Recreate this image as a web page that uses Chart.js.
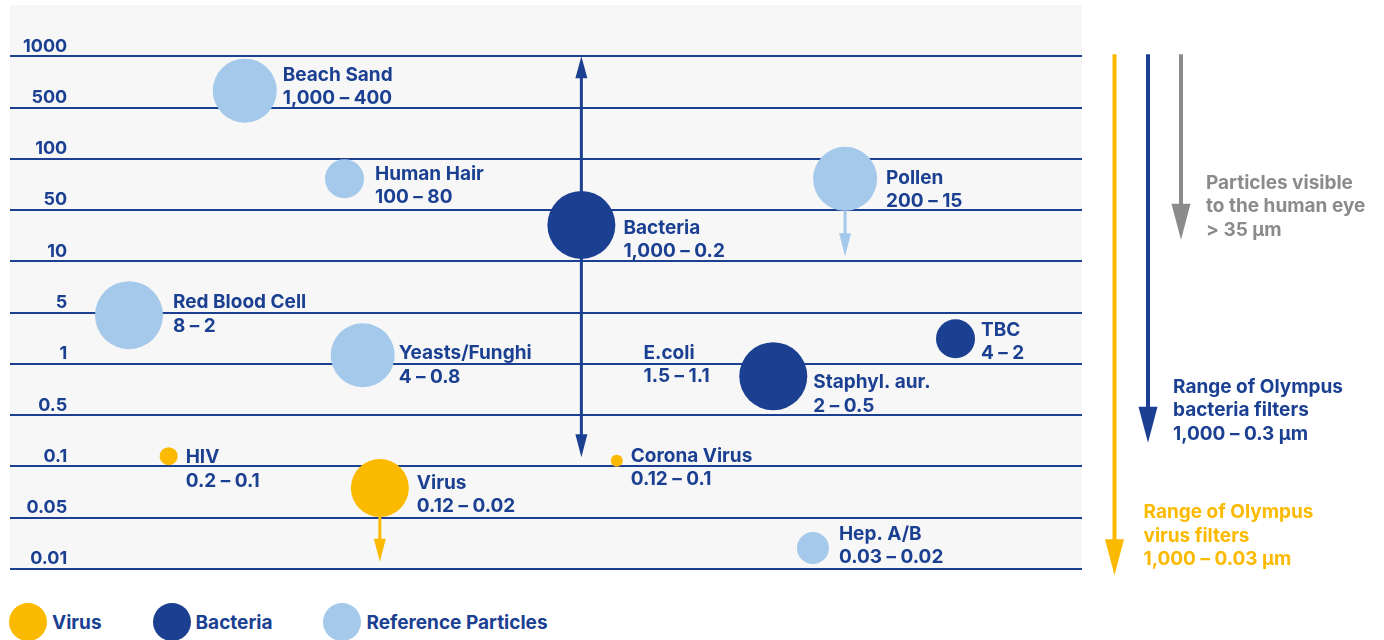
<!DOCTYPE html>
<html>
<head>
<meta charset="utf-8">
<script src="https://cdn.jsdelivr.net/npm/chart.js@4.4.1/dist/chart.umd.min.js"></script>
<style>
  body { margin: 0; background: #fff; }
  #wrap { position: relative; width: 1384px; height: 640px; overflow: hidden; }
  #legend { position: absolute; left: 9px; top: 603px; display: flex; align-items: center;
            font-family: Inter, 'Liberation Sans', sans-serif; }
  .item { display: flex; align-items: center; margin-right: 51px; font-weight: 700; font-size: 19px; color: #1b4092; }
  .dot { width: 38px; height: 38px; border-radius: 50%; margin-right: 5px; }
</style>
</head>
<body>
<div id="wrap">
  <canvas id="chart" width="1384" height="600"></canvas>
  <div id="legend"></div>
</div>
<script>
// size bands (µm), bottom to top, one gridline each
const sizeBands = ['0.01', '0.05', '0.1', '0.5', '1', '5', '10', '50', '100', '500', '1000'];

// particles
const names   = ['Beach Sand', 'Human Hair', 'Bacteria', 'Pollen', 'Red Blood Cell', 'Yeasts/Funghi', 'E.coli', 'TBC', 'Staphyl. aur.', 'HIV', 'Virus', 'Corona Virus', 'Hep. A/B'];
const ranges  = ['1,000 – 400', '100 – 80', '1,000 – 0.2', '200 – 15', '8 – 2', '4 – 0.8', '1.5 – 1.1', '4 – 2', '2 – 0.5', '0.2 – 0.1', '0.12 – 0.02', '0.12 – 0.1', '0.03 – 0.02'];
const groups  = ['ref', 'ref', 'bac', 'ref', 'ref', 'ref', 'bac', 'bac', 'bac', 'vir', 'vir', 'vir', 'ref'];
const posX    = [21.9, 31.2, 53.3, 77.9, 11.1, 32.9, 59.1, 88.2, 71.2, 14.8, 34.5, 56.6, 74.9];
const posY    = [9.33, 7.61, 6.71, 7.61, 4.95, 4.17, 4.0, 4.49, 3.76, 2.2, 1.58, 2.11, 0.41];
const bubbleR = [32, 19.5, 34, 32, 34, 32, 0, 19.5, 34, 9, 29, 6, 16];

// range arrows on single particles (band position; null = starts at the bubble)
const arrowOn   = ['Bacteria', 'Pollen', 'Virus'];
const arrowFrom = [10, null, null];
const arrowTo   = [2.18, 6.1, 0.14];

// filter ranges on the right
const filterText = [
    ['Range of Olympus', 'virus filters', '1,000 – 0.03 µm'],
    ['Range of Olympus', 'bacteria filters', '1,000 – 0.3 µm'],
    ['Particles visible', 'to the human eye', '> 35 µm']
];
const filterFrom = [10, 10, 10];
const filterTo   = [-0.12, 2.46, 6.42];

// ─── styles ──────────────────────────────────────────────────────
const C = { dark: '#1b4092', light: '#a4c9eb', yellow: '#fbba00', grey: '#8b8b8b', bg: '#f7f7f7' };
const groupColor = { vir: C.yellow, bac: C.dark, ref: C.light };
const FONT = '700 19px Inter, "Liberation Sans", sans-serif';
const labelNudge = [[6, -17], [11, -6], [8, 2], [9, -2], [10, -14], [4, -3], [0, -12], [6, -10], [6, 5], [8, 0], [8, -6], [8, -6], [10, -15]];
const filterStyle = [
    { dx: 32.5, color: C.yellow, textDx: 29, textDy: -57 },
    { dx: 66, color: C.dark, textDx: 25, textDy: -50 },
    { dx: 99, color: C.grey, textDx: 25, textDy: -51 }
];

Chart.defaults.font.family = 'Inter, "Liberation Sans", sans-serif';

const legendOrder = [['vir', 'Virus'], ['bac', 'Bacteria'], ['ref', 'Reference Particles']];
const datasets = legendOrder.map(([g, label]) => ({
    label,
    data: names.map((_, i) => i).filter(i => groups[i] === g)
        .map(i => ({ x: posX[i], y: posY[i], r: bubbleR[i] })),
    backgroundColor: groupColor[g],
    borderWidth: 0,
    hoverBorderWidth: 0,
    hoverRadius: 0
}));

function head(ctx, x, tipY, dir, len, half) {
    ctx.beginPath();
    ctx.moveTo(x, tipY);
    ctx.lineTo(x - half, tipY - dir * len);
    ctx.lineTo(x + half, tipY - dir * len);
    ctx.closePath();
    ctx.fill();
}

const decor = {
    id: 'decor',
    beforeDraw(chart) {
        const { ctx, chartArea: a } = chart;
        ctx.save();
        ctx.fillStyle = C.bg;
        ctx.fillRect(a.left, a.top, a.right - a.left, a.bottom - a.top);
        ctx.restore();
    },
    beforeDatasetsDraw(chart) {
        const { ctx, scales: { x, y } } = chart;
        ctx.save();
        arrowOn.forEach((n, k) => {
            const i = names.indexOf(n);
            const px = x.getPixelForValue(posX[i]);
            const col = groupColor[groups[i]];
            const tip = y.getPixelForValue(arrowTo[k]);
            const both = arrowFrom[k] !== null;
            const start = both ? y.getPixelForValue(arrowFrom[k]) : y.getPixelForValue(posY[i]) + bubbleR[i];
            ctx.strokeStyle = col;
            ctx.fillStyle = col;
            ctx.lineWidth = 3;
            ctx.beginPath();
            ctx.moveTo(px, both ? start + 20 : start);
            ctx.lineTo(px, tip - 20);
            ctx.stroke();
            head(ctx, px, tip, 1, 23, 6);
            if (both) head(ctx, px, start, -1, 22, 6);
        });
        ctx.restore();
    },
    afterDatasetsDraw(chart) {
        const { ctx, chartArea: a, scales: { x, y } } = chart;
        ctx.save();
        ctx.font = FONT;
        ctx.textBaseline = 'alphabetic';
        ctx.fillStyle = C.dark;
        names.forEach((n, i) => {
            const [dx, dy] = labelNudge[i];
            const tx = x.getPixelForValue(posX[i]) + bubbleR[i] + dx;
            const ty = y.getPixelForValue(posY[i]) + dy + 7;
            ctx.fillText(n, tx, ty);
            ctx.fillText(ranges[i], tx, ty + 23.5);
        });

        // filter range arrows
        filterText.forEach((lines, k) => {
            const s = filterStyle[k];
            const px = a.right + s.dx;
            const top = y.getPixelForValue(filterFrom[k]) - 2;
            const tip = y.getPixelForValue(filterTo[k]);
            ctx.strokeStyle = s.color;
            ctx.fillStyle = s.color;
            ctx.lineWidth = 4;
            ctx.beginPath();
            ctx.moveTo(px, top);
            ctx.lineTo(px, tip - 30);
            ctx.stroke();
            head(ctx, px, tip, 1, 36, 9.5);
            lines.forEach((t, j) => ctx.fillText(t, px + s.textDx, tip + s.textDy + j * 23.5));
        });
        ctx.restore();
    }
};

const chart = new Chart(document.getElementById('chart'), {
    type: 'bubble',
    data: { datasets },
    options: {
        responsive: false,
        animation: false,
        events: [],
        layout: { autoPadding: false, padding: { left: 10, top: 5, right: 302, bottom: 31 } },
        plugins: { legend: { display: false }, tooltip: { enabled: false } },
        scales: {
            x: { display: false, min: 0, max: 100 },
            y: {
                min: 0,
                max: 11,
                afterBuildTicks: s => { s.ticks = sizeBands.map((_, v) => ({ value: v })); },
                afterFit: s => { s.width = 0; s.paddingTop = 0; s.paddingBottom = 0; },
                border: { display: false },
                grid: { color: C.dark, lineWidth: 2, drawTicks: false },
                ticks: {
                    mirror: true,
                    crossAlign: 'far',
                    padding: 13,
                    labelOffset: -10,
                    color: C.dark,
                    font: { size: 18, weight: 700 },
                    callback: v => sizeBands[v]
                }
            }
        }
    },
    plugins: [decor]
});

// legend built from the datasets
const legend = document.getElementById('legend');
chart.data.datasets.forEach(ds => {
    const item = document.createElement('div');
    item.className = 'item';
    const dot = document.createElement('span');
    dot.className = 'dot';
    dot.style.background = ds.backgroundColor;
    item.appendChild(dot);
    item.appendChild(document.createTextNode(ds.label));
    legend.appendChild(item);
});
</script>
</body>
</html>
